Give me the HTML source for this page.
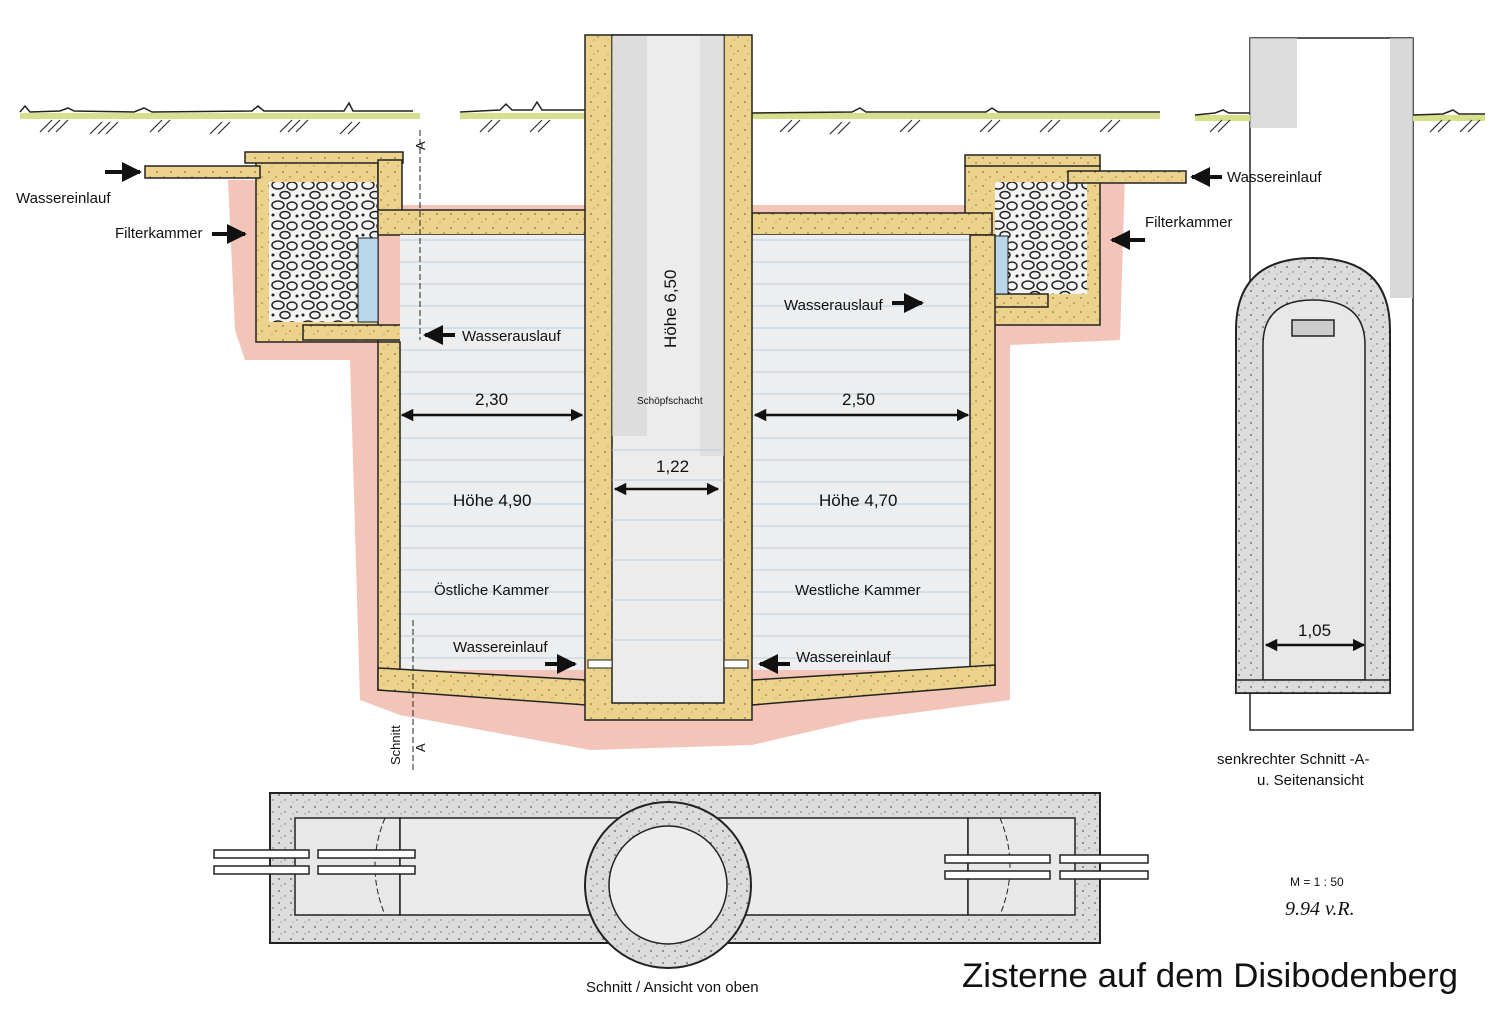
<!DOCTYPE html>
<html><head><meta charset="utf-8"><style>
html,body{margin:0;padding:0;background:#fff}
svg{display:block}
text{font-family:"Liberation Sans",sans-serif;fill:#111}
</style></head><body>
<svg width="1500" height="1016" viewBox="0 0 1500 1016" xmlns="http://www.w3.org/2000/svg">
<defs>
<pattern id="gravel" width="30" height="20" patternUnits="userSpaceOnUse">
<rect width="30" height="20" fill="#f4f4f2"/>
<ellipse cx="8" cy="5" rx="6" ry="4" fill="none" stroke="#222" stroke-width="1.5"/>
<ellipse cx="22" cy="6" rx="5" ry="4" fill="none" stroke="#222" stroke-width="1.5"/>
<ellipse cx="15" cy="15" rx="5" ry="3.5" fill="none" stroke="#222" stroke-width="1.5"/>
<circle cx="3" cy="15" r="1.5" fill="#222"/><circle cx="27" cy="16" r="1.5" fill="#222"/>
</pattern>
<pattern id="sand" width="14" height="14" patternUnits="userSpaceOnUse">
<rect width="14" height="14" fill="#ecd28a"/>
<circle cx="3" cy="4" r="0.9" fill="#8a7440"/><circle cx="10" cy="9" r="0.8" fill="#8a7440"/><circle cx="6" cy="12" r="0.6" fill="#a08850"/>
</pattern>
<pattern id="speck" width="12" height="12" patternUnits="userSpaceOnUse">
<rect width="12" height="12" fill="#dcdcdc"/>
<circle cx="3" cy="3" r="0.9" fill="#555"/><circle cx="9" cy="8" r="0.7" fill="#666"/><circle cx="5" cy="10" r="0.5" fill="#444"/>
</pattern>
<pattern id="water" width="10" height="22" patternUnits="userSpaceOnUse">
<rect width="10" height="22" fill="#eceeef"/>
<line x1="0" y1="20" x2="10" y2="20" stroke="#b7cfe0" stroke-width="1"/>
</pattern>
<marker id="ah" viewBox="0 0 10 10" refX="9" refY="5" markerWidth="5" markerHeight="5" orient="auto-start-reverse"><path d="M0,0L10,5L0,10z" fill="#111"/></marker>
</defs>

<!-- soil halo -->
<path d="M228,180 L400,180 L400,205 L965,205 L965,160 L1125,175 L1120,340 L1010,345 L1010,700 L860,720 L752,745 L590,750 L400,715 L360,700 L350,360 L245,360 L235,330 Z" fill="#efb7a6" opacity="0.8"/>

<!-- right side view (behind labels) -->
<rect x="1250" y="38" width="163" height="692" fill="#fff" stroke="#222" stroke-width="1.5"/>
<rect x="1250" y="38" width="47" height="90" fill="#cfcfcf" opacity="0.7"/>
<rect x="1390" y="38" width="23" height="260" fill="#c9c9c9" opacity="0.7"/>
<path d="M1236,693 L1236,330 Q1236,258 1313,258 Q1390,258 1390,330 L1390,693Z" fill="url(#speck)" stroke="#222" stroke-width="2"/>
<path d="M1263,680 L1263,345 Q1263,300 1313,300 Q1365,300 1365,345 L1365,680Z" fill="#e8e8e8" stroke="#222" stroke-width="1.5"/>
<rect x="1236" y="680" width="154" height="13" fill="url(#speck)" stroke="#222" stroke-width="1.5"/>
<rect x="1292" y="320" width="42" height="16" fill="#ccc" stroke="#222" stroke-width="1.5"/>

<!-- ground line -->
<rect x="20" y="113" width="400" height="6" fill="#d6df8a"/>
<rect x="460" y="113" width="125" height="6" fill="#d6df8a"/>
<rect x="752" y="113" width="408" height="6" fill="#d6df8a"/>
<rect x="1195" y="115" width="55" height="6" fill="#d6df8a"/>
<rect x="1413" y="115" width="72" height="6" fill="#d6df8a"/>
<g stroke="#222" stroke-width="1.5" fill="none">
<path d="M20,112 l5,-6 l5,6 l30,-1 l8,-3 l6,3 l60,1 l10,-4 l8,4 l100,-1 l6,-5 l6,5 l80,0 l5,-8 l4,8 l60,0 M460,112 l40,-2 l6,-6 l6,6 l20,0 l5,-8 l5,8 l43,0 M752,113 l100,-1 l8,-4 l6,4 l120,0 l6,-4 l6,4 l162,0 M1195,115 l20,-2 l8,-3 l6,3 l21,0 M1413,115 l30,-1 l10,-4 l6,4 l26,0"/>
</g>
<g stroke="#333" stroke-width="1.2">
<path d="M40,132l12,-12M48,132l12,-12M56,132l12,-12M90,134l12,-12M98,134l12,-12M106,134l12,-12M150,132l12,-12M158,132l12,-12M210,134l12,-12M218,134l12,-12M280,132l12,-12M288,132l12,-12M296,132l12,-12M340,134l12,-12M348,134l12,-12M480,132l12,-12M488,132l12,-12M530,132l12,-12M538,132l12,-12M780,132l12,-12M788,132l12,-12M830,134l12,-12M838,134l12,-12M900,132l12,-12M908,132l12,-12M980,132l12,-12M988,132l12,-12M1040,132l12,-12M1048,132l12,-12M1100,132l12,-12M1108,132l12,-12M1210,132l12,-12M1218,132l12,-12M1430,132l12,-12M1438,132l12,-12M1460,132l12,-12M1468,132l12,-12"/>
</g>

<!-- left filter chamber -->
<rect x="256" y="162" width="122" height="180" fill="url(#sand)" stroke="#222" stroke-width="1.5"/>
<rect x="269" y="182" width="108" height="140" fill="url(#gravel)"/>
<rect x="245" y="152" width="158" height="11" fill="url(#sand)" stroke="#222" stroke-width="1.5"/>
<rect x="145" y="166" width="115" height="12" fill="url(#sand)" stroke="#222" stroke-width="1.5"/>
<rect x="358" y="238" width="20" height="84" fill="#b9d6ea" stroke="#222"/>
<rect x="303" y="325" width="113" height="15" fill="url(#sand)" stroke="#222" stroke-width="1.5"/>

<!-- right filter chamber -->
<rect x="965" y="165" width="135" height="160" fill="url(#sand)" stroke="#222" stroke-width="1.5"/>
<rect x="995" y="182" width="92" height="112" fill="url(#gravel)"/>
<rect x="965" y="155" width="135" height="11" fill="url(#sand)" stroke="#222" stroke-width="1.5"/>
<rect x="1068" y="171" width="118" height="12" fill="url(#sand)" stroke="#222" stroke-width="1.5"/>
<rect x="932" y="294" width="116" height="13" fill="url(#sand)" stroke="#222" stroke-width="1.5"/>
<rect x="990" y="236" width="18" height="58" fill="#b9d6ea" stroke="#222"/>

<!-- left chamber -->
<rect x="378" y="160" width="24" height="52" fill="url(#sand)" stroke="#222" stroke-width="1.5"/>
<rect x="378" y="210" width="208" height="25" fill="url(#sand)" stroke="#222" stroke-width="1.5"/>
<rect x="400" y="235" width="186" height="435" fill="url(#water)"/>
<rect x="378" y="342" width="22" height="348" fill="url(#sand)" stroke="#222" stroke-width="1.5"/>
<path d="M378,668 L586,680 L586,705 L378,690Z" fill="url(#sand)" stroke="#222" stroke-width="1.5"/>

<!-- right chamber -->
<rect x="752" y="213" width="240" height="22" fill="url(#sand)" stroke="#222" stroke-width="1.5"/>
<rect x="752" y="235" width="218" height="435" fill="url(#water)"/>
<rect x="970" y="235" width="25" height="450" fill="url(#sand)" stroke="#222" stroke-width="1.5"/>
<path d="M752,680 L995,665 L995,685 L752,705Z" fill="url(#sand)" stroke="#222" stroke-width="1.5"/>

<!-- central shaft -->
<rect x="585" y="35" width="167" height="685" fill="url(#sand)" stroke="#222" stroke-width="1.5"/>
<rect x="612" y="35" width="112" height="668" fill="#ececec" stroke="#222" stroke-width="1.5"/>
<rect x="612" y="36" width="35" height="400" fill="#d4d4d4" opacity="0.6"/>
<rect x="700" y="36" width="24" height="420" fill="#d9d9d9" opacity="0.6"/>
<g stroke="#b7cfe0"><path d="M612,450H724M612,480H724M612,520H724M612,560H724M612,600H724M612,640H724"/></g>
<rect x="588" y="660" width="24" height="8" fill="#fff" stroke="#222"/>
<rect x="724" y="660" width="24" height="8" fill="#fff" stroke="#222"/>

<!-- section line A -->
<line x1="420" y1="130" x2="420" y2="340" stroke="#222" stroke-dasharray="6,3"/>
<line x1="413" y1="620" x2="413" y2="770" stroke="#222" stroke-dasharray="6,3"/>
<text x="425" y="150" font-size="13" transform="rotate(-90 425 150)">A</text>
<text x="400" y="765" font-size="13" transform="rotate(-90 400 765)">Schnitt</text>
<text x="425" y="752" font-size="13" transform="rotate(-90 425 752)">A</text>

<!-- dimensions -->
<g stroke="#111" stroke-width="2.5" marker-start="url(#ah)" marker-end="url(#ah)">
<line x1="402" y1="415" x2="582" y2="415"/>
<line x1="755" y1="415" x2="968" y2="415"/>
<line x1="615" y1="489" x2="718" y2="489"/>
<line x1="1266" y1="645" x2="1364" y2="645"/>
</g>
<g stroke="#111" stroke-width="4" marker-end="url(#ah)">
<line x1="105" y1="172" x2="140" y2="172"/>
<line x1="212" y1="234" x2="245" y2="234"/>
<line x1="455" y1="335" x2="425" y2="335"/>
<line x1="1222" y1="177" x2="1192" y2="177"/>
<line x1="1145" y1="240" x2="1112" y2="240"/>
<line x1="892" y1="303" x2="922" y2="303"/>
<line x1="545" y1="664" x2="575" y2="664"/>
<line x1="790" y1="664" x2="760" y2="664"/>
</g>

<g font-size="15">
<text x="16" y="203">Wassereinlauf</text>
<text x="115" y="238">Filterkammer</text>
<text x="462" y="341">Wasserauslauf</text>
<text x="1227" y="182">Wassereinlauf</text>
<text x="1145" y="227">Filterkammer</text>
<text x="784" y="310">Wasserauslauf</text>
<text x="453" y="652">Wassereinlauf</text>
<text x="796" y="662">Wassereinlauf</text>
<text x="434" y="595">Östliche Kammer</text>
<text x="795" y="595">Westliche Kammer</text>
<text x="1217" y="764">senkrechter Schnitt  -A-</text>
<text x="1257" y="785">u. Seitenansicht</text>
<text x="586" y="992">Schnitt / Ansicht von oben</text>
</g>
<g font-size="17">
<text x="475" y="405">2,30</text>
<text x="842" y="405">2,50</text>
<text x="656" y="472">1,22</text>
<text x="453" y="506">Höhe 4,90</text>
<text x="819" y="506">Höhe 4,70</text>
<text x="1298" y="636">1,05</text>
<text x="676" y="348" transform="rotate(-90 676 348)">Höhe 6,50</text>
</g>
<text x="637" y="404" font-size="10">Schöpfschacht</text>

<!-- plan view -->
<rect x="270" y="793" width="830" height="150" fill="url(#speck)" stroke="#222" stroke-width="2"/>
<rect x="295" y="818" width="105" height="97" fill="#e8e8e8" stroke="#222" stroke-width="1.5"/>
<rect x="400" y="818" width="568" height="97" fill="#ebebeb" stroke="#222" stroke-width="1.5"/>
<rect x="968" y="818" width="107" height="97" fill="#e8e8e8" stroke="#222" stroke-width="1.5"/>
<circle cx="668" cy="885" r="83" fill="url(#speck)" stroke="#222" stroke-width="2"/>
<circle cx="668" cy="885" r="59" fill="#ededed" stroke="#222" stroke-width="1.5"/>
<path d="M385,818 Q365,866 385,915 M1000,818 Q1020,866 1000,915" stroke="#222" fill="none" stroke-dasharray="6,3"/>
<g fill="#fff" stroke="#222" stroke-width="1.5">
<rect x="214" y="850" width="95" height="8"/><rect x="214" y="866" width="95" height="8"/>
<rect x="318" y="850" width="97" height="8"/><rect x="318" y="866" width="97" height="8"/>
<rect x="945" y="855" width="105" height="8"/><rect x="945" y="871" width="105" height="8"/>
<rect x="1060" y="855" width="88" height="8"/><rect x="1060" y="871" width="88" height="8"/>
</g>

<text x="1290" y="886" font-size="12">M = 1 : 50</text>
<text x="1285" y="915" font-size="20" font-style="italic" fill="#333" style="font-family:'Liberation Serif',serif">9.94  v.R.</text>
<text x="962" y="987" font-size="34" textLength="496" lengthAdjust="spacingAndGlyphs">Zisterne auf dem Disibodenberg</text>
</svg>
</body></html>
